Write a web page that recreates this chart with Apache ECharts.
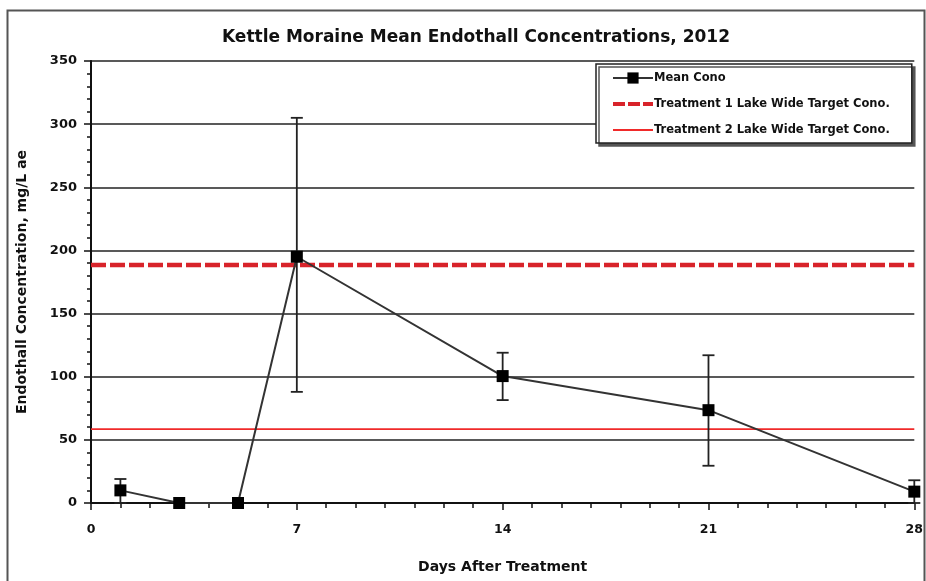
<!DOCTYPE html>
<html><head><meta charset="utf-8">
<script src="https://cdn.jsdelivr.net/npm/echarts@6/dist/echarts.min.js"></script>
<style>html,body{margin:0;padding:0;background:#fff}#c{width:926px;height:581px}</style>
</head><body><div id="c"></div>
<script>
const days = [1, 3, 5, 7, 14, 21, 28];
const meanCono = [10, 0, 0, 195, 100.5, 73.5, 9];
const errLow = [0, 0, 0, 88, 81.5, 29.5, 0];
const errHigh = [19, 0, 0, 305, 119, 117, 18];
const target1 = 188.5;
const target2 = 58.5;
const xRange = [0, 28];
const seriesNames = ['Mean Cono', 'Treatment 1 Lake Wide Target Cono.', 'Treatment 2 Lake Wide Target Cono.'];

const font = '"DejaVu Sans", Verdana, sans-serif';
const meanData = days.map((d, i) => [d, meanCono[i]]);
const errData = days.map((d, i) => [d, errLow[i], errHigh[i]]).filter(r => r[2] > r[1]);

const chart = echarts.init(document.getElementById('c'), null, {renderer: 'canvas'});
chart.setOption({
  animation: false,
  backgroundColor: '#fff',
  title: {
    text: 'Kettle Moraine Mean Endothall Concentrations, 2012',
    left: 471, top: 24, textAlign: 'center',
    textStyle: {fontFamily: font, fontWeight: 'bold', fontSize: 17, color: '#111'}
  },
  graphic: [{
    type: 'rect', left: 5, top: 8, z: -1,
    shape: {width: 917, height: 590},
    style: {fill: 'none', stroke: '#555', lineWidth: 2}
  }],
  legend: {
    orient: 'vertical', left: 596, top: 64,
    padding: [8, 22, 7, 15],
    itemGap: 14, itemWidth: 40, itemHeight: 14,
    backgroundColor: '#fff', borderColor: '#222', borderWidth: 1.5,
    shadowColor: '#555', shadowOffsetX: 3, shadowOffsetY: 3, shadowBlur: 0,
    textStyle: {fontFamily: font, fontWeight: 'bold', fontSize: 11.5, color: '#111', padding: [0, 0, 0, -4]},
    data: [
      {name: seriesNames[0]},
      {name: seriesNames[1], lineStyle: {width: 4, type: [12, 3]}},
      {name: seriesNames[2], lineStyle: {width: 1.8}}
    ]
  },
  grid: {left: 91, right: 6, top: 61, bottom: 78},
  xAxis: {
    type: 'value', min: xRange[0], max: xRange[1], interval: 7,
    name: 'Days After Treatment', nameLocation: 'middle', nameGap: 57,
    nameTextStyle: {fontFamily: font, fontWeight: 'bold', fontSize: 14, color: '#111'},
    axisLine: {show: true, onZero: false, lineStyle: {color: '#111', width: 2}},
    axisTick: {show: true, length: 7, lineStyle: {color: '#111', width: 1.5}},
    minorTick: {show: true, splitNumber: 7, length: 5, lineStyle: {color: '#111', width: 1.5}},
    axisLabel: {fontFamily: font, fontWeight: 'bold', fontSize: 12.5, color: '#111', margin: 20},
    splitLine: {show: false}
  },
  yAxis: {
    type: 'value', min: 0, max: 350, interval: 50,
    name: 'Endothall Concentration, mg/L ae', nameLocation: 'middle', nameGap: 62,
    nameTextStyle: {fontFamily: font, fontWeight: 'bold', fontSize: 14, color: '#111'},
    axisLine: {show: true, lineStyle: {color: '#111', width: 2}},
    axisTick: {show: true, length: 7, lineStyle: {color: '#111', width: 1.5}},
    minorTick: {show: true, splitNumber: 5, length: 4, lineStyle: {color: '#111', width: 1.5}},
    axisLabel: {fontFamily: font, fontWeight: 'bold', fontSize: 13, color: '#111', margin: 14},
    splitLine: {show: true, lineStyle: {color: '#222', width: 1.5}}
  },
  series: [
    {
      name: seriesNames[1], type: 'line', data: [[xRange[0], target1], [xRange[1], target1]],
      symbol: 'circle', showSymbol: false, color: '#d8232a',
      itemStyle: {opacity: 0},
      lineStyle: {color: '#d8232a', width: 4.5, type: [15, 4], opacity: 1}, z: 2
    },
    {
      name: seriesNames[2], type: 'line', data: [[xRange[0], target2], [xRange[1], target2]],
      symbol: 'circle', showSymbol: false, color: '#f02a2a',
      itemStyle: {opacity: 0},
      lineStyle: {color: '#f02a2a', width: 1.8, opacity: 1}, z: 2
    },
    {
      type: 'custom', name: 'err', data: errData, z: 3,
      renderItem: function (params, api) {
        const x = api.value(0);
        const lo = api.coord([x, api.value(1)]);
        const hi = api.coord([x, api.value(2)]);
        const cap = 6;
        const st = {stroke: '#222', lineWidth: 1.8};
        return {type: 'group', children: [
          {type: 'line', shape: {x1: lo[0], y1: lo[1], x2: hi[0], y2: hi[1]}, style: st},
          {type: 'line', shape: {x1: hi[0] - cap, y1: hi[1], x2: hi[0] + cap, y2: hi[1]}, style: st},
          {type: 'line', shape: {x1: lo[0] - cap, y1: lo[1], x2: lo[0] + cap, y2: lo[1]}, style: st}
        ]};
      }
    },
    {
      name: seriesNames[0], type: 'line', data: meanData,
      symbol: 'rect', symbolSize: 12, color: '#000',
      itemStyle: {color: '#000'},
      lineStyle: {color: '#333', width: 2}, z: 4
    }
  ]
});
</script></body></html>
